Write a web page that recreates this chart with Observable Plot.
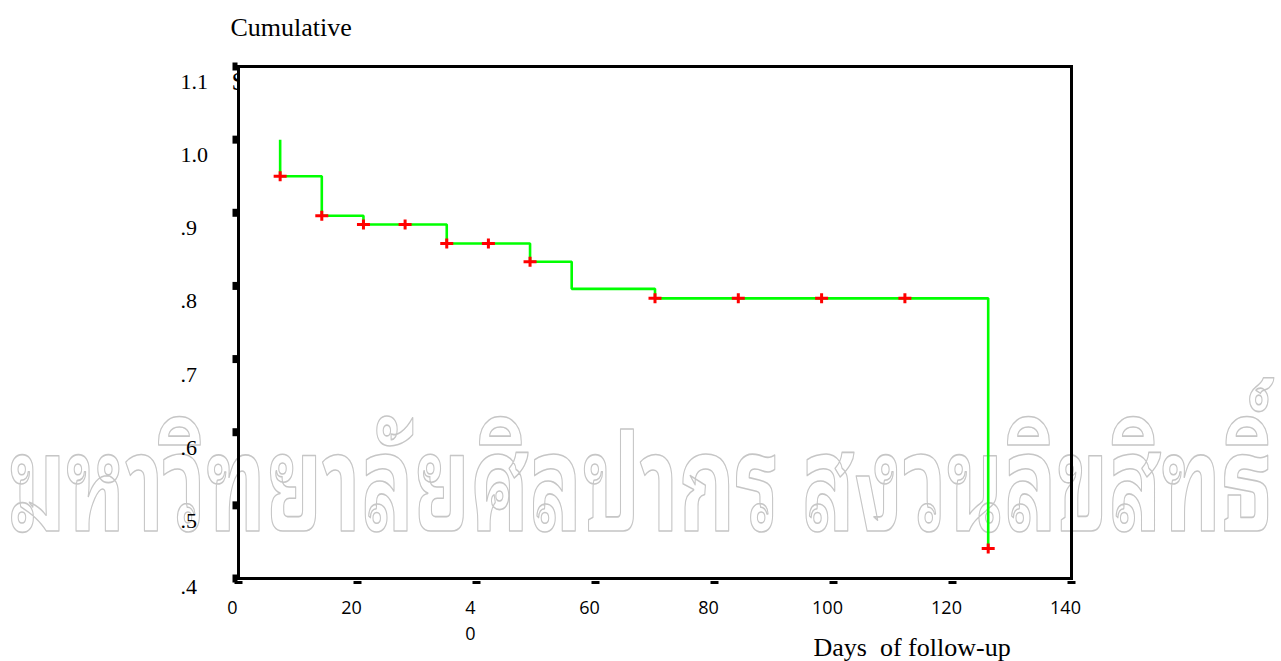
<!DOCTYPE html>
<html>
<head>
<meta charset="utf-8">
<script src="https://cdn.jsdelivr.net/npm/d3@7"></script>
<script src="https://cdn.jsdelivr.net/npm/@observablehq/plot@0.6"></script>
<style>
  html, body { margin: 0; padding: 0; background: white; }
</style>
</head>
<body>
<div id="chart"></div>
<script>
// ---- data ----
const stepDays = [7, 7, 14, 21, 35, 49, 56, 70, 126];
const stepSurvival = [1.0, 0.95, 0.896, 0.884, 0.858, 0.833, 0.796, 0.783, 0.441];

const censorDays = [7, 14, 21, 28, 35, 42, 49, 70, 84, 98, 112, 126];
const censorSurvival = [0.95, 0.896, 0.884, 0.884, 0.858, 0.858, 0.833, 0.783, 0.783, 0.783, 0.783, 0.441];

const yTicks = [0.4, 0.5, 0.6, 0.7, 0.8, 0.9, 1.0, 1.1];
const yTickLabels = [".4", ".5", ".6", ".7", ".8", ".9", "1.0", "1.1"];
const xTicks = [0, 20, 40, 60, 80, 100, 120, 140];
const xTickLabels = ["0", "20", "4\n0", "60", "80", "100", "120", "140"];

const yTitle = "Cumulative";
const yTitleHidden = "Survival";
const xTitle = "Days\u00a0 of follow-up";
const watermark = "มหาวิทยาลัยศิลปากร สงวนลิขสิทธิ์";

// ---- tables ----
const stepData = stepDays.map((d, i) => ({day: d, s: stepSurvival[i]}));
const censorData = censorDays.map((d, i) => ({day: d, s: censorSurvival[i]}));
const yTickData = yTicks.map((v, i) => ({v, label: yTickLabels[i]}));
const xTickData = xTicks.map((v, i) => ({v, label: xTickLabels[i]}));
const yLabelsUpper = yTickData.filter(d => d.v > yTicks[0]);
const yLabelsBottom = yTickData.filter(d => d.v === yTicks[0]);

const serif = "'Liberation Serif', 'Times New Roman', serif";
const sans = "'Open Sans', 'Noto Sans', sans-serif";
const thai = "'Noto Sans Thai Looped', 'Noto Serif Thai', Loma, Garuda, Kinnari, Norasi, 'Tlwg Typo', 'Noto Sans Thai', 'DejaVu Sans', sans-serif";

const plusSym = {draw(ctx) { ctx.moveTo(-6.5, 0); ctx.lineTo(6.5, 0); ctx.moveTo(0, -5); ctx.lineTo(0, 5); }};
const ySquare = {draw(ctx) { ctx.rect(-2.5, -4, 5, 8); }};
const xDash = {draw(ctx) { ctx.rect(-4, -1.5, 8, 3); }};

const yLabelStyle = {y: "v", text: "label", frameAnchor: "left", dx: -58, textAnchor: "start", lineAnchor: "bottom", fontSize: 22, fontFamily: serif, fill: "black"};

const chart = Plot.plot({
  width: 1281,
  height: 661,
  marginLeft: 238,
  marginRight: 210,
  marginTop: 66,
  marginBottom: 83,
  style: {background: "white", color: "black", overflow: "visible"},
  x: {domain: [0, 140], axis: null},
  y: {domain: [0.4, 1.1], axis: null},
  marks: [
    Plot.text([yTitleHidden], {text: d => d, frameAnchor: "top-left", dx: -7, dy: 23, textAnchor: "start", lineAnchor: "bottom", fontSize: 26, fontFamily: serif, fill: "black"}),
    Plot.frame({fill: "white", stroke: null}),
    Plot.text([watermark], {text: d => d, frameAnchor: "top-left", dx: -230, dy: 464, textAnchor: "start", lineAnchor: "bottom", fontSize: 134, fontWeight: "bold", fontFamily: thai, fill: "none", stroke: "#c6c6c6", strokeWidth: 1.6}),
    Plot.line(stepData, {x: "day", y: "s", curve: "step-after", stroke: "#00ff00", strokeWidth: 2.6, strokeLinejoin: "miter", strokeLinecap: "butt"}),
    Plot.dot(censorData, {x: "day", y: "s", symbol: plusSym, stroke: "#ff0000", strokeWidth: 3, fill: "none"}),
    Plot.frame({stroke: "black", strokeWidth: 3}),
    Plot.dot(yTickData, {y: "v", frameAnchor: "left", dx: -3.5, symbol: ySquare, fill: "black", stroke: null}),
    Plot.text(yLabelsUpper, {...yLabelStyle, dy: 22.5}),
    Plot.text(yLabelsBottom, {...yLabelStyle, dy: 15}),
    Plot.dot(xTickData, {x: "v", frameAnchor: "bottom", dy: 4, symbol: xDash, fill: "black", stroke: null}),
    Plot.text(xTickData, {x: "v", text: "label", frameAnchor: "bottom", dx: -6, dy: 17, lineAnchor: "top", lineHeight: 1.45, fontSize: 18, fontFamily: sans, fill: "black"}),
    Plot.text([yTitle], {text: d => d, frameAnchor: "top-left", dx: -8, dy: -31, textAnchor: "start", lineAnchor: "bottom", fontSize: 26, fontFamily: serif, fill: "black"}),
    Plot.text([xTitle], {text: d => d, frameAnchor: "bottom-left", dx: 575, dy: 77, textAnchor: "start", lineAnchor: "bottom", fontSize: 26, fontFamily: serif, fill: "black"})
  ]
});

d3.select(chart).selectAll("text")
  .filter(function() { return this.textContent === watermark; })
  .attr("textLength", 1264)
  .attr("lengthAdjust", "spacingAndGlyphs");

document.getElementById("chart").appendChild(chart);
</script>
</body>
</html>
